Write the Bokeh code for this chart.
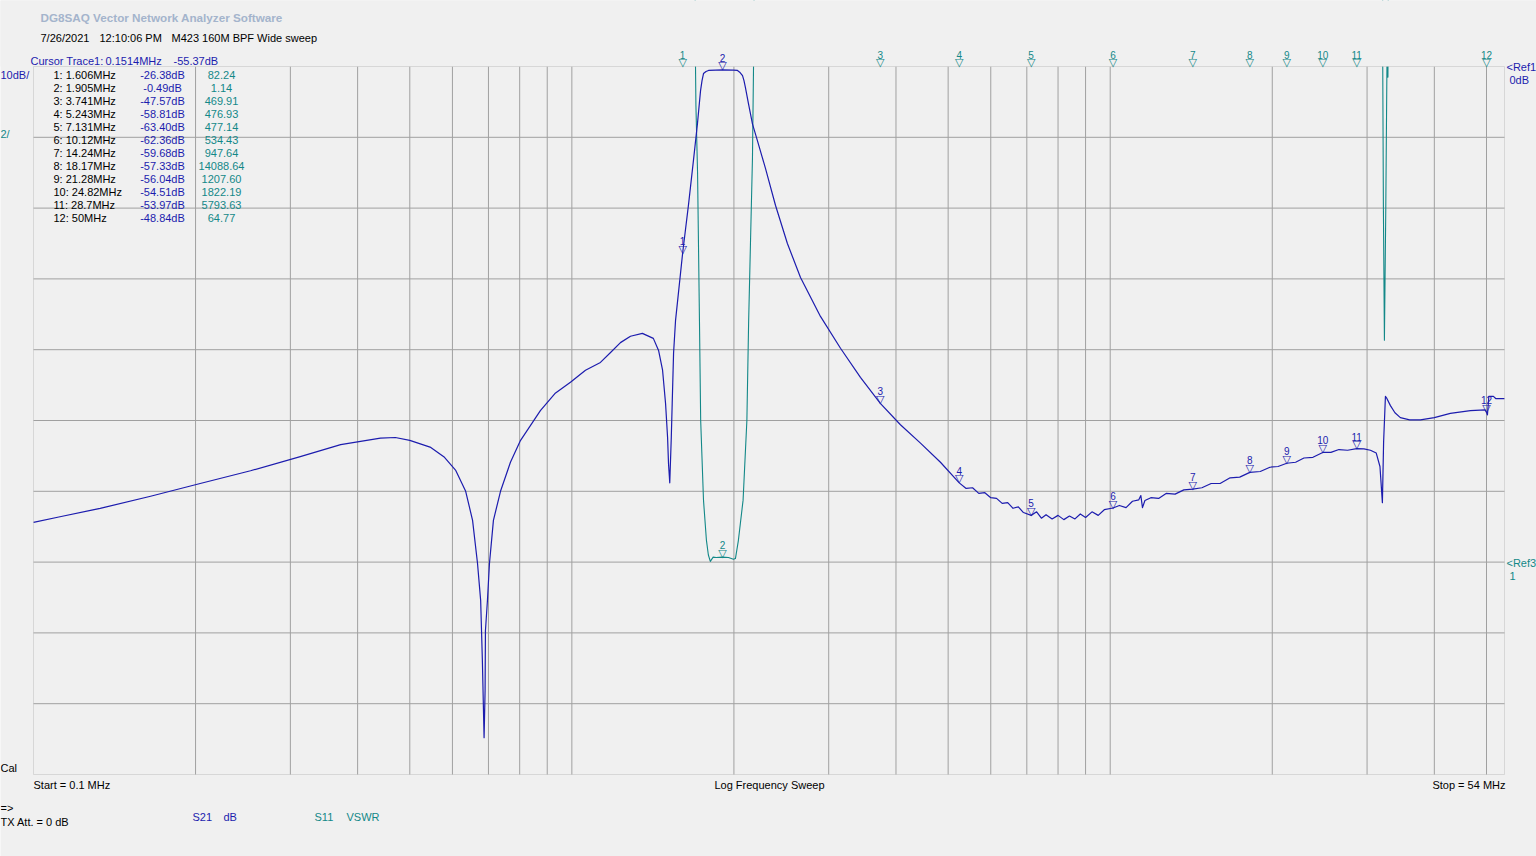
import math
from bokeh.plotting import figure
from bokeh.models import Range1d, Label, LabelSet, ColumnDataSource, BoxAnnotation
from bokeh.embed import file_html
from bokeh.resources import INLINE
from bokeh.core.properties import value

# ---------------- data ----------------
# S21 (blue trace): frequency in MHz, magnitude in dB
s21_freq = [0.100, 0.112, 0.133, 0.165, 0.204, 0.253, 0.313, 0.372, 0.441, 0.470,
            0.500, 0.547, 0.580, 0.608, 0.635, 0.654, 0.668, 0.677, 0.682, 0.687,
            0.690, 0.691, 0.697, 0.703, 0.715, 0.737, 0.769, 0.803, 0.874, 0.930,
            0.994, 1.060, 1.130, 1.180, 1.231, 1.285, 1.352, 1.417, 1.449, 1.474,
            1.493, 1.506, 1.512, 1.520, 1.530, 1.536, 1.545, 1.558, 1.606, 1.647,
            1.682, 1.711, 1.734, 1.745, 1.756, 1.775, 1.794, 1.905, 1.996, 2.031,
            2.050, 2.075, 2.088, 2.101, 2.128, 2.165, 2.212,
            2.289, 2.389, 2.514, 2.659, 2.896, 3.155, 3.436, 3.741, 4.077, 4.442,
            4.838, 5.243,
            5.40, 5.55, 5.70, 5.85, 6.00, 6.15, 6.30, 6.45, 6.60, 6.75, 6.90, 7.131,
            7.30, 7.45, 7.60, 7.80, 8.00, 8.20, 8.40, 8.60, 8.80, 9.00, 9.25, 9.50,
            9.75, 10.12, 10.40, 10.70, 11.00, 11.30, 11.40, 11.48, 11.60, 11.90,
            12.30, 12.70, 13.20, 13.70, 14.24, 14.80, 15.40, 16.00, 16.70, 17.40,
            18.17, 19.00, 19.80, 20.50, 21.28, 22.10, 22.90, 23.80, 24.82, 25.70,
            26.60, 27.60, 28.70, 29.60, 30.43, 31.20, 31.70, 32.03, 32.20, 32.45,
            32.60, 33.15, 33.80, 34.59, 36.00, 37.69, 40.00, 42.83, 46.67, 49.70,
            50.00, 50.20, 50.50, 51.50, 52.00, 54.00]
s21_db = [-64.4, -63.6, -62.4, -60.7, -58.9, -57.1, -55.1, -53.4, -52.5, -52.4,
          -52.8, -53.8, -55.2, -57.0, -60.0, -64.1, -70.2, -75.4, -83.9, -94.8,
          -88.1, -79.7, -75.4, -70.2, -64.1, -60.0, -55.9, -52.8, -48.6, -46.2,
          -44.6, -42.9, -41.8, -40.4, -39.0, -38.1, -37.7, -38.4, -40.1, -42.9,
          -47.6, -52.4, -56.1, -58.8, -52.4, -47.6, -40.5, -35.9, -26.38, -19.5,
          -13.3, -8.1, -3.4, -2.0, -1.0, -0.7, -0.56, -0.49, -0.5, -0.56,
          -0.8, -1.3, -2.0, -3.0, -5.2, -8.1, -10.5,
          -14.4, -19.6, -25.0, -29.8, -35.3, -39.8, -43.9, -47.57, -50.6, -53.2,
          -55.9, -58.81,
          -59.6, -59.5, -60.3, -60.2, -60.9, -61.0, -61.7, -61.6, -62.4, -62.2, -63.0, -63.40,
          -62.9, -63.8, -63.3, -63.9, -63.4, -64.0, -63.5, -63.9, -63.2, -63.7, -62.9, -63.4,
          -62.6, -62.36, -62.0, -62.3, -61.4, -61.2, -60.6, -62.3, -61.3, -60.9,
          -61.0, -60.3, -60.4, -59.8, -59.68, -59.5, -58.9, -58.9, -58.1, -58.0,
          -57.33, -57.2, -56.6, -56.5, -56.04, -55.9, -55.3, -55.2, -54.51, -54.5,
          -54.1, -54.2, -53.97, -54.0, -54.2, -54.6, -56.5, -61.6, -53.0, -46.6,
          -46.8, -47.9, -48.9, -49.6, -49.9, -49.9, -49.6, -49.0, -48.6, -48.5,
          -48.84, -49.2, -46.6, -46.6, -46.9, -46.9]

# S11 (teal trace): frequency in MHz, VSWR
s11_freq = [1.606, 1.690, 1.697, 1.700, 1.712, 1.726, 1.735, 1.756, 1.778, 1.793,
            1.808, 1.830, 1.853, 1.905, 1.954, 1.996, 2.013, 2.038, 2.080, 2.114,
            2.130, 2.165, 2.175, 2.200, 3.741, 5.243, 7.131, 10.12, 14.24, 18.17,
            21.28, 24.82, 28.70, 31.90, 32.08, 32.17, 32.31, 32.50, 32.66, 32.80,
            32.90, 50.00, 54.00]
s11_vswr = [82.24, 20.0, 15.0, 13.9, 12.0, 7.8, 5.0, 2.75, 1.62, 1.2,
            1.02, 1.14, 1.13, 1.14, 1.13, 1.08, 1.10, 1.6, 2.75, 5.0,
            7.8, 12.4, 15.0, 25.0, 469.91, 476.93, 477.14, 534.43, 947.64, 14088.64,
            1207.60, 1822.19, 5793.63, 60.0, 15.0, 11.0, 7.27, 11.0, 15.0, 14.7,
            20.0, 64.77, 60.0]

# markers
marker_freq = [1.606, 1.905, 3.741, 5.243, 7.131, 10.12, 14.24, 18.17, 21.28, 24.82, 28.7, 50]
marker_db = [-26.38, -0.49, -47.57, -58.81, -63.40, -62.36, -59.68, -57.33, -56.04, -54.51, -53.97, -48.84]
marker_vswr = [82.24, 1.14, 469.91, 476.93, 477.14, 534.43, 947.64, 14088.64, 1207.60, 1822.19, 5793.63, 64.77]

# grid / scales
grid_freq = [0.2, 0.3, 0.4, 0.5, 0.6, 0.7, 0.8, 0.9, 1, 2, 3, 4, 5, 6, 7, 8, 9, 10, 20, 30, 40, 50]
grid_db = [-90, -80, -70, -60, -50, -40, -30, -20, -10]
f_start, f_stop = 0.1, 54
db_bottom, db_top = -100, 0
vswr_bottom, vswr_top = -5, 15

# ---------------- layout (page pixels) ----------------
W, H = 1536, 856
PL, PR, PT, PB = 33, 1504, 66, 774          # plot area edges
k = (math.log10(f_stop) - math.log10(f_start)) / (PR - PL)
x_lo = 10 ** (math.log10(f_start) - PL * k)
x_hi = 10 ** (math.log10(f_stop) + (W - PR) * k)
dpp = (db_top - db_bottom) / (PB - PT)
vpp = (vswr_top - vswr_bottom) / (PB - PT)
y_lo, y_hi = db_bottom - (H - PB) * dpp, db_top + PT * dpp

BG = "#F0F0F0"
GRID = "#A0A0A0"
BLUE = "#1C1CAE"
TEAL = "#138888"
FONT = "Liberation Sans"

p = figure(width=W, height=H, x_axis_type="log",
           x_range=Range1d(x_lo, x_hi), y_range=Range1d(y_lo, y_hi),
           x_axis_location=None, y_axis_location=None,
           toolbar_location=None, output_backend="svg",
           min_border=0, min_border_left=0, min_border_right=0,
           min_border_top=0, min_border_bottom=0)
p.extra_y_ranges = {"vswr": Range1d(vswr_bottom - (H - PB) * vpp, vswr_top + PT * vpp)}
p.background_fill_color = BG
p.border_fill_color = BG
p.outline_line_color = None
p.xgrid.visible = False
p.ygrid.visible = False

# grid lines
p.segment(x0=grid_freq, y0=[db_bottom] * len(grid_freq), x1=grid_freq, y1=[db_top] * len(grid_freq),
          line_color=GRID, line_width=1)
p.segment(x0=[f_start] * len(grid_db), y0=grid_db, x1=[f_stop] * len(grid_db), y1=grid_db,
          line_color=GRID, line_width=1)

# traces
p.line(s11_freq, s11_vswr, y_range_name="vswr", line_color=TEAL, line_width=1.1, line_join="round")
p.line(s21_freq, s21_db, line_color=BLUE, line_width=1.2, line_join="round")

# mask everything drawn above the top of the plot area, then the plot border
p.add_layout(BoxAnnotation(bottom=db_top, top=y_hi + 50 * (y_hi - y_lo),
                           left=x_lo / 10, right=x_hi * 10,
                           fill_color=BG, fill_alpha=1, line_alpha=0))
p.add_layout(BoxAnnotation(left=f_start, right=f_stop, bottom=db_bottom, top=db_top,
                           fill_alpha=0, line_color=GRID, line_width=1))

# markers
msrc = ColumnDataSource(dict(f=marker_freq, db=marker_db,
                             v=[min(v, vswr_top) for v in marker_vswr],
                             n=[str(i + 1) for i in range(len(marker_freq))],
                             tri=["\u25BD"] * len(marker_freq)))
for yname, col, color in [("default", "db", BLUE), ("vswr", "v", TEAL)]:
    p.add_layout(LabelSet(x="f", y=col, text="tri", source=msrc, y_range_name=yname,
                          text_align="center", text_baseline="middle", y_offset=4,
                          text_font=value("DejaVu Sans"), text_font_size="11px", text_color=color))
    p.add_layout(LabelSet(x="f", y=col, text="n", source=msrc, y_range_name=yname,
                          text_align="center", text_baseline="middle", y_offset=12,
                          text_font=value(FONT), text_font_size="10px", text_color=color))


# ---------------- texts (page pixel positions) ----------------
def txt(x, y, s, color="black", size="11px", bold=False, align="left"):
    p.add_layout(Label(x=x, y=H - y, x_units="screen", y_units="screen", text=s,
                       text_color=color, text_font=FONT, text_font_size=size,
                       text_font_style="bold" if bold else "normal",
                       text_align=align, text_baseline="middle"))


txt(40, 17, "DG8SAQ Vector Network Analyzer Software", color="#A4B4CC", size="11.7px", bold=True)
txt(40, 37, "7/26/2021")
txt(99, 37, "12:10:06 PM")
txt(171, 37, "M423 160M BPF Wide sweep")
txt(30, 60, "Cursor Trace1:", color=BLUE)
txt(105, 60, "0.1514MHz", color=BLUE)
txt(173, 60, "-55.37dB", color=BLUE)
txt(0, 74, "10dB/", color=BLUE)
txt(0, 133, "2/", color=TEAL)
txt(1506, 66, "<Ref1", color=BLUE)
txt(1509, 79, "0dB", color=BLUE)
txt(1506, 562, "<Ref3", color=TEAL)
txt(1509, 575, "1", color=TEAL)
txt(0, 767, "Cal")
txt(33, 784, "Start = 0.1 MHz")
txt(769, 784, "Log Frequency Sweep", align="center")
txt(1505, 784, "Stop = 54 MHz", align="right")
txt(0, 807, "=>")
txt(0, 821, "TX Att.  = 0 dB")
txt(192, 816, "S21", color=BLUE)
txt(223, 816, "dB", color=BLUE)
txt(314, 816, "S11", color=TEAL)
txt(346, 816, "VSWR", color=TEAL)

# marker table
tsrc = ColumnDataSource(dict(
    y=[H - (74 + 13 * i) for i in range(len(marker_freq))],
    name=["%d: %gMHz" % (i + 1, f) for i, f in enumerate(marker_freq)],
    db=["%.2fdB" % d for d in marker_db],
    vs=["%.2f" % v for v in marker_vswr]))
for xx, field, color, align in [(53, "name", "black", "left"),
                                (162, "db", BLUE, "center"),
                                (221, "vs", TEAL, "center")]:
    p.add_layout(LabelSet(x=xx, y="y", text=field, source=tsrc, x_units="screen", y_units="screen",
                          text_color=color, text_font=value(FONT), text_font_size="11px",
                          text_align=align, text_baseline="middle"))

open("out.html", "w").write(file_html(p, INLINE))
